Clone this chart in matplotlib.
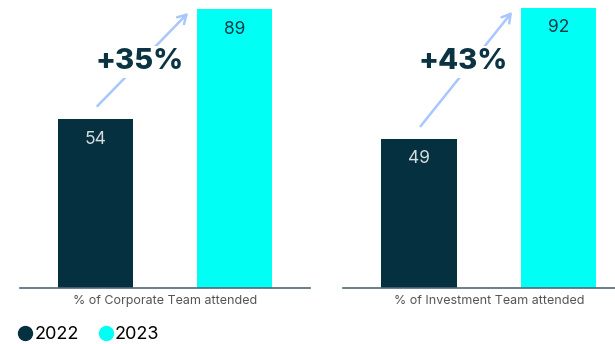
import matplotlib.pyplot as plt
from matplotlib.lines import Line2D

plt.rcParams['font.family'] = ['Inter', 'DejaVu Sans']

years = ["2022", "2023"]
teams = ["% of Corporate Team attended", "% of Investment Team attended"]
values = [[54, 89], [49, 92]]
growth = ["+35%", "+43%"]
ytops = [92, 94.7]

dark = "#04303f"
cyan = "#00fff5"
arrow_c = "#a9c6ff"

fig = plt.figure(figsize=(6.15, 3.44), dpi=100)
axes = [fig.add_axes([20 / 615, 56 / 344, 290 / 615, 288 / 344]),
        fig.add_axes([343 / 615, 56 / 344, 291.5 / 615, 288 / 344])]

for ax, vals, team, g, top in zip(axes, values, teams, growth, ytops):
    ax.bar([0, 1], vals, width=0.54, color=[dark, cyan])
    ax.set_xlim(-0.543, 1.543)
    ax.set_ylim(0, top)
    for s in ["top", "right", "left"]:
        ax.spines[s].set_visible(False)
    ax.spines["bottom"].set_color("#4f6a76")
    ax.spines["bottom"].set_linewidth(1.2)
    ax.set_yticks([])
    ax.set_xticks([])
    ax.set_xlabel(team, fontsize=9, color="#555555", labelpad=5)
    ax.text(0, vals[0] - 6.5, str(vals[0]), ha="center", va="center",
            fontsize=12.5, color="#d5dde0")
    ax.text(1, vals[1] - 6.5, str(vals[1]), ha="center", va="center",
            fontsize=12.5, color="#0b3a48")
    ax.annotate("", xy=(0.68, vals[1] - 0.5), xytext=(0, vals[0] + 3.5),
                arrowprops=dict(arrowstyle="->,head_length=0.6,head_width=0.35",
                                color=arrow_c, lw=1.8))
    ax.text(0.32, 0.785, g, transform=ax.get_xaxis_transform(),
            ha="center", va="center",
            fontsize=21, fontweight="heavy", color="#0b3342",
            bbox=dict(facecolor="white", edgecolor="none", pad=2))

handles = [Line2D([], [], marker="o", linestyle="", color=c, markersize=10)
           for c in [dark, cyan]]
fig.legend(handles, years, loc="lower left", bbox_to_anchor=(0.0, -0.045),
           ncol=2, frameon=False, fontsize=13, handletextpad=0.0,
           columnspacing=1.0, handlelength=1.0)

fig.savefig("out.png", dpi=100)
